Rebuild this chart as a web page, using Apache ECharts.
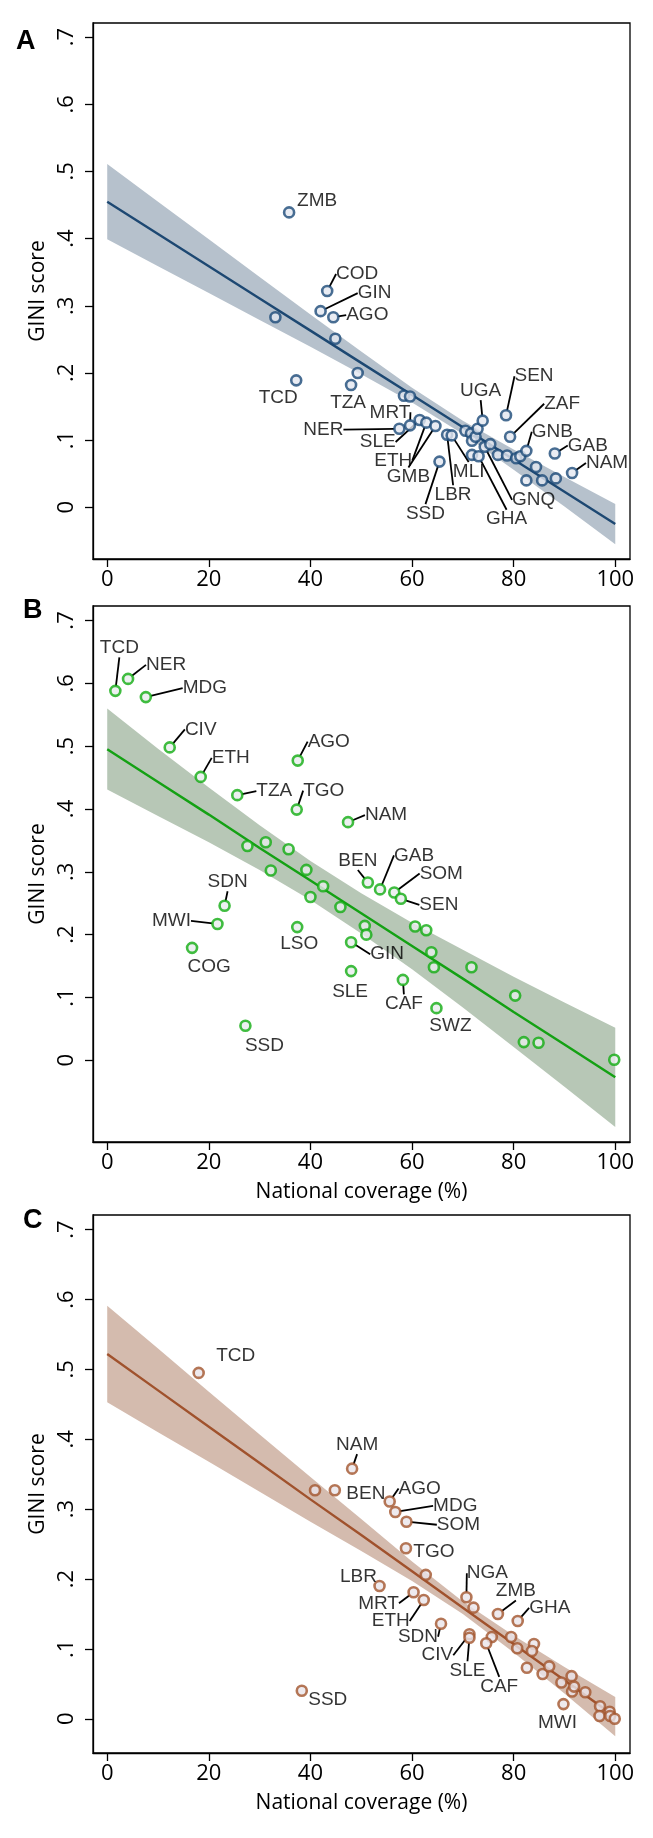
<!DOCTYPE html>
<html><head><meta charset="utf-8">
<script src="https://cdn.jsdelivr.net/npm/echarts@6/dist/echarts.min.js"></script>
<style>html,body{margin:0;padding:0;background:#fff}#c{width:653px;height:1838px}</style>
</head><body><div id="c"></div>
<script>
// ---------------- DATA ----------------
const xTicks = [0, 20, 40, 60, 80, 100];
const yTicks = [0, 0.1, 0.2, 0.3, 0.4, 0.5, 0.6, 0.7];
const yTickLabels = ['0', '.1', '.2', '.3', '.4', '.5', '.6', '.7'];
const xTitle = 'National coverage (%)';
const yTitle = 'GINI score';
const panelLetters = ['A', 'B', 'C'];

// Panel A
const coverageA = [35.8,43.3,42.0,44.5,33.1,44.9,49.3,37.2,48.0,58.4,59.6,57.5,59.6,61.5,62.8,64.6,65.4,66.9,67.8,70.5,71.6,71.8,72.5,72.9,73.9,71.8,73.1,74.3,75.4,76.9,78.7,80.5,81.3,78.5,79.3,82.5,84.4,82.5,85.6,88.3,88.1,91.5];
const giniA     = [0.439,0.322,0.292,0.283,0.283,0.251,0.200,0.189,0.182,0.166,0.165,0.117,0.122,0.130,0.126,0.121,0.068,0.108,0.107,0.114,0.110,0.099,0.105,0.117,0.129,0.078,0.076,0.090,0.094,0.078,0.077,0.073,0.076,0.137,0.105,0.084,0.060,0.040,0.040,0.043,0.080,0.051];
const codeA     = ['ZMB','COD','GIN','AGO','','','','TCD','TZA','','','NER','MRT','SLE','ETH','GMB','SSD','LBR','MLI','','','','','','UGA','','GHA','GNQ','','','','','','SEN','ZAF','GNB','','','','','GAB','NAM'];
const fitX  = [0, 10, 20, 30, 40, 50, 60, 70, 80, 90, 100];
const fitA  = [0.455,0.407,0.359,0.311,0.263,0.215,0.167,0.119,0.071,0.023,-0.025];
const loA   = [0.399,0.359,0.319,0.279,0.239,0.198,0.156,0.109,0.056,0.001,-0.055];
const hiA   = [0.511,0.455,0.399,0.343,0.287,0.232,0.178,0.129,0.086,0.045,0.005];

// Panel B
const coverageB = [1.6,4.1,7.6,12.3,18.4,25.6,37.5,37.3,47.4,27.6,31.2,35.7,32.2,39.2,42.5,51.3,53.7,56.5,57.8,40.0,45.9,23.1,21.7,16.7,37.4,50.7,51.0,48.0,48.0,60.6,62.8,63.8,64.3,71.7,58.2,64.8,27.2,80.3,82.0,84.9,99.8];
const giniB     = [0.588,0.607,0.578,0.498,0.451,0.422,0.477,0.399,0.379,0.341,0.347,0.336,0.302,0.303,0.277,0.283,0.272,0.267,0.257,0.260,0.244,0.246,0.217,0.179,0.212,0.214,0.200,0.188,0.142,0.213,0.207,0.172,0.148,0.148,0.128,0.083,0.055,0.103,0.029,0.028,0.001];
const codeB     = ['TCD','NER','MDG','CIV','ETH','TZA','AGO','TGO','NAM','','','','','','','BEN','GAB','SOM','SEN','','','SDN','MWI','COG','LSO','','','GIN','SLE','','','','','','CAF','SWZ','SSD','','','',''];
const fitB  = [0.495,0.443,0.391,0.338,0.286,0.234,0.182,0.130,0.077,0.025,-0.027];
const loB   = [0.431,0.389,0.347,0.303,0.255,0.202,0.145,0.084,0.021,-0.042,-0.106];
const hiB   = [0.560,0.496,0.434,0.374,0.317,0.266,0.219,0.176,0.133,0.092,0.052];

// Panel C
const coverageC = [18.0,48.2,40.9,44.8,55.6,56.7,58.9,58.8,62.7,53.6,60.3,62.3,65.7,70.7,72.1,76.9,80.8,71.3,71.3,75.7,74.6,79.5,80.7,84.0,83.6,82.6,85.7,87.0,89.4,91.4,91.5,91.9,94.1,89.8,97.0,96.9,98.9,99.0,99.9,38.3];
const giniC     = [0.495,0.358,0.327,0.327,0.311,0.296,0.282,0.244,0.206,0.190,0.181,0.170,0.136,0.174,0.159,0.150,0.140,0.121,0.116,0.117,0.108,0.117,0.101,0.107,0.097,0.073,0.064,0.075,0.052,0.061,0.039,0.046,0.038,0.021,0.018,0.004,0.010,0.004,0.000,0.040];
const codeC     = ['TCD','NAM','','BEN','AGO','MDG','SOM','TGO','','LBR','MRT','ETH','SDN','NGA','','ZMB','GHA','CIV','SLE','','CAF','','','','','','','','','','','','','MWI','','','','','','SSD'];
const fitC  = [0.522,0.470,0.418,0.366,0.314,0.263,0.211,0.159,0.107,0.055,0.003];
const loC   = [0.453,0.410,0.368,0.325,0.282,0.240,0.197,0.150,0.095,0.036,-0.025];
const hiC   = [0.591,0.530,0.468,0.407,0.346,0.286,0.225,0.168,0.119,0.074,0.031];

// ---------------- LABEL PLACEMENT (offset px, leader line) ----------------
const placeA = {ZMB:[28,-12,0],COD:[30,-17,1],GIN:[54,-18,1],AGO:[34,-2,1],TCD:[-18,17,0],TZA:[-3,18,0],
  MRT:[-20,-13,1],NER:[-76,1,1],SLE:[-42,22,1],ETH:[-33,38,1],GMB:[-27,51,1],SSD:[-14,52,1],LBR:[6,60,1],
  MLI:[17,36,1],GHA:[28,63,1],GNQ:[49,53,1],UGA:[-2,-30,1],SEN:[28,-39,1],ZAF:[52,-33,1],GNB:[26,-19,1],
  GAB:[33,-8,1],NAM:[35,-10,1]};
const placeB = {TCD:[4,-43,1],NER:[38,-14,1],MDG:[59,-9,1],CIV:[31,-18,1],ETH:[30,-19,1],TZA:[37,-4,1],
  AGO:[31,-19,1],TGO:[27,-19,1],NAM:[38,-7,1],BEN:[-10,-22,1],GAB:[34,-34,1],SOM:[47,-19,1],SEN:[38,6,1],
  SDN:[3,-24,1],MWI:[-46,-3,1],COG:[17,19,0],LSO:[2,17,0],GIN:[36,12,1],SLE:[-1,21,0],CAF:[1,24,1],
  SWZ:[14,18,0],SSD:[19,20,0]};
const placeC = {TCD:[37,-17,0],NAM:[5,-24,1],BEN:[31,3,0],AGO:[30,-13,1],MDG:[60,-6,1],SOM:[52,3,1],
  TGO:[28,3,0],LBR:[-21,-9,0],MRT:[-35,11,1],ETH:[-33,21,1],SDN:[-23,13,1],NGA:[21,-24,1],ZMB:[18,-23,1],
  GHA:[32,-13,1],CIV:[-32,21,1],SLE:[-2,33,1],CAF:[13,43,1],SSD:[26,9,0],MWI:[-6,19,0]};

// ---------------- CHART ----------------
const panels = [
  {xs:coverageA, ys:giniA, codes:codeA, fit:fitA, lo:loA, hi:hiA, place:placeA,
   ymin:-0.077, ymax:0.721, top:23, height:536,
   stroke:'#1c4a78', line:'#1d4872', band:'#b6c1cc', fill:'#e3e7f0', xname:false, letter:[27,43]},
  {xs:coverageB, ys:giniB, codes:codeB, fit:fitB, lo:loB, hi:hiB, place:placeB,
   ymin:-0.130, ymax:0.723, top:606, height:536,
   stroke:'#12ad12', line:'#14a114', band:'#b7c7b6', fill:'#e8ecee', xname:true, letter:[34,612]},
  {xs:coverageC, ys:giniC, codes:codeC, fit:fitC, lo:loC, hi:hiC, place:placeC,
   ymin:-0.049, ymax:0.721, top:1215, height:538,
   stroke:'#a2552d', line:'#a0522d', band:'#d4bbae', fill:'#eae5ea', xname:true, letter:[34,1222]}
];

const tickFont = 'Open Sans';
const grids = [], xAxes = [], yAxes = [], series = [], graphics = [];

panels.forEach((p, i) => {
  grids.push({left:93, top:p.top, width:537, height:p.height, show:true, borderColor:'#000', borderWidth:1.3, backgroundColor:'#fff'});
  xAxes.push({
    gridIndex:i, type:'value', min:-2.8, max:102.9,
    axisLine:{show:true, onZero:false, lineStyle:{color:'#000', width:1.3}},
    axisTick:{show:true, length:8, customValues:xTicks, lineStyle:{color:'#000', width:1.3}},
    axisLabel:{customValues:xTicks, fontSize:22, fontFamily:tickFont, color:'#000', margin:10},
    splitLine:{show:false},
    name: p.xname ? xTitle : '', nameLocation:'middle', nameGap:40,
    nameTextStyle:{fontSize:21, fontFamily:tickFont, color:'#000'}
  });
  yAxes.push({
    gridIndex:i, type:'value', min:p.ymin, max:p.ymax,
    axisLine:{show:true, onZero:false, lineStyle:{color:'#000', width:1.3}},
    axisTick:{show:true, length:8, customValues:yTicks, lineStyle:{color:'#000', width:1.3}},
    axisLabel:{customValues:yTicks, rotate:90, fontSize:22, fontFamily:tickFont, color:'#000', margin:15,
      formatter:(v) => { let k = 0; yTicks.forEach((t, j) => { if (Math.abs(t - v) < 1e-6) k = j; }); return yTickLabels[k]; }},
    splitLine:{show:false},
    name:yTitle, nameLocation:'middle', nameGap:44, nameRotate:90,
    nameTextStyle:{fontSize:21, fontFamily:tickFont, color:'#000'}
  });
  // confidence band
  series.push({
    type:'custom', xAxisIndex:i, yAxisIndex:i, z:1, silent:true,
    data: fitX.map((x, k) => [x, p.lo[k], p.hi[k]]),
    renderItem: (params, api) => {
      if (params.dataIndex !== 0) return null;
      const pts = [];
      for (let k = 0; k < fitX.length; k++) pts.push(api.coord([fitX[k], p.hi[k]]));
      for (let k = fitX.length - 1; k >= 0; k--) pts.push(api.coord([fitX[k], p.lo[k]]));
      return {type:'polygon', shape:{points:pts}, style:{fill:p.band}};
    }
  });
  // regression line
  series.push({
    type:'line', xAxisIndex:i, yAxisIndex:i, z:2, silent:true, symbol:'none',
    data: fitX.map((x, k) => [x, p.fit[k]]),
    lineStyle:{color:p.line, width:2.4}
  });
  // points
  series.push({
    type:'scatter', xAxisIndex:i, yAxisIndex:i, z:3, silent:true,
    symbol:'circle', symbolSize:10,
    itemStyle:{color:p.fill, borderColor:p.stroke, borderWidth:2.6},
    data: p.xs.map((x, k) => {
      const c = p.codes[k];
      const pl = p.place[c];
      return {value:[x, p.ys[k]], name:c,
        label:{show: !!c},
        labelLine:{show: !!(pl && pl[2])}};
    }),
    label:{show:true, position:'inside', formatter:'{b}', color:'#000', textBorderWidth:0,
      fontSize:19, fontFamily:'Liberation Sans'},
    labelLine:{lineStyle:{color:'#000', width:1.8}},
    labelLayout: (params) => {
      const c = p.codes[params.dataIndex];
      const pl = p.place[c];
      if (!pl) return {};
      return {dx:pl[0], dy:pl[1], hideOverlap:false};
    }
  });
  graphics.push({type:'text', left:p.letter[0]-11, top:p.letter[1]-15, silent:true,
    style:{text:panelLetters[i], fontSize:27, fontWeight:'bold', fontFamily:'Liberation Sans', fill:'#000'}});
});

const chart = echarts.init(document.getElementById('c'), null, {renderer:'canvas'});
chart.setOption({
  animation:false,
  backgroundColor:'#fff',
  grid:grids, xAxis:xAxes, yAxis:yAxes, series:series, graphic:graphics
});
</script>
</body></html>
